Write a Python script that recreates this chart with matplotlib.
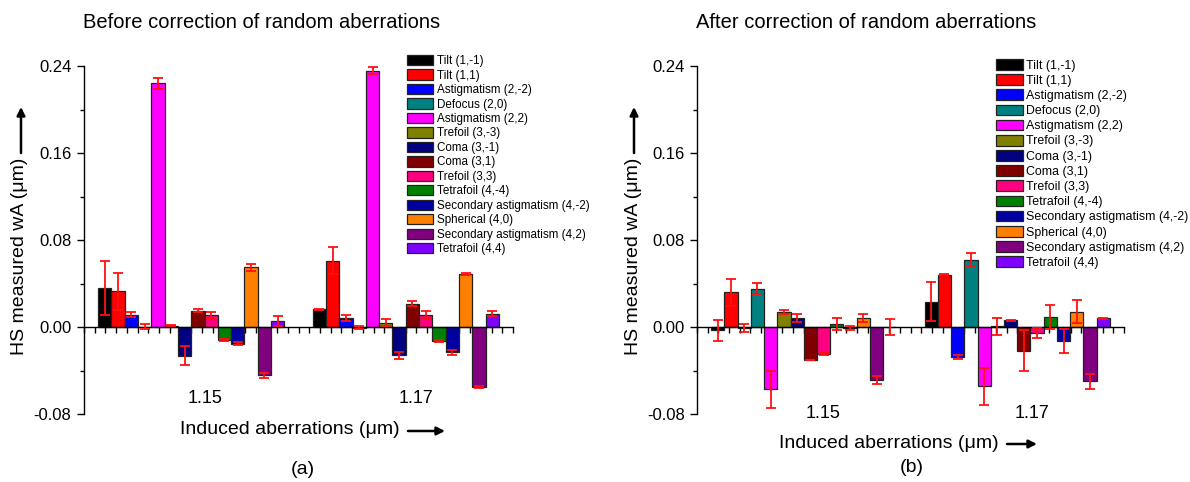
import matplotlib
matplotlib.use("Agg")
import matplotlib.pyplot as plt
from matplotlib.patches import Patch, FancyArrowPatch
import numpy as np

plt.rcParams["font.family"] = ["Liberation Sans", "DejaVu Sans"]

# Zernike terms, one bar per term in each group
terms = ["Tilt (1,-1)", "Tilt (1,1)", "Astigmatism (2,-2)", "Defocus (2,0)",
         "Astigmatism (2,2)", "Trefoil (3,-3)", "Coma (3,-1)", "Coma (3,1)",
         "Trefoil (3,3)", "Tetrafoil (4,-4)", "Secondary astigmatism (4,-2)",
         "Spherical (4,0)", "Secondary astigmatism (4,2)", "Tetrafoil (4,4)"]
term_colors = ["#000000", "#FF0000", "#0000FF", "#008080", "#FF00FF", "#808000",
               "#000080", "#800000", "#FF0080", "#008000", "#0000A0", "#FF8000",
               "#800080", "#8000FF"]
groups = ["1.15", "1.17"]

# Measured coefficients (um) and their standard deviations
before_115 = [0.0355, 0.0330, 0.0113, 0.0003, 0.2243, 0.0010, -0.0264, 0.0150,
              0.0107, -0.0120, -0.0153, 0.0548, -0.0445, 0.0055]
before_115_err = [0.0248, 0.0170, 0.0023, 0.0020, 0.0050, 0.0005, 0.0088, 0.0012,
                  0.0028, 0.0007, 0.0017, 0.0030, 0.0025, 0.0046]
before_117 = [0.0162, 0.0610, 0.0086, -0.0005, 0.2357, 0.0040, -0.0260, 0.0214,
              0.0110, -0.0129, -0.0230, 0.0487, -0.0552, 0.0122]
before_117_err = [0.0006, 0.0124, 0.0028, 0.0015, 0.0030, 0.0035, 0.0034, 0.0021,
                  0.0040, 0.0006, 0.0023, 0.0012, 0.0005, 0.0021]

after_115 = [-0.0030, 0.0318, -0.0010, 0.0352, -0.0572, 0.0138, 0.0083, -0.0303,
             -0.0248, 0.0031, -0.0012, 0.0083, -0.0490, -0.0003]
after_115_err = [0.0096, 0.0126, 0.0038, 0.0049, 0.0170, 0.0017, 0.0037, 0.0003,
                 0.0005, 0.0054, 0.0017, 0.0034, 0.0035, 0.0072]
after_117 = [0.0233, 0.0480, -0.0278, 0.0618, -0.0545, 0.0006, 0.0061, -0.0218,
             -0.0055, 0.0092, -0.0126, 0.0141, -0.0497, 0.0080]
after_117_err = [0.0180, 0.0006, 0.0017, 0.0060, 0.0170, 0.0078, 0.0006, 0.0190,
                 0.0046, 0.0107, 0.0110, 0.0106, 0.0069, 0.0006]

W, H = 1190, 482
fig = plt.figure(figsize=(W / 100, H / 100), dpi=100)


def px(x, y):
    """Figure fraction from pixel position measured from the top-left."""
    return x / W, 1 - y / H


def panel(rect, vals_a, err_a, vals_b, err_b, group_label_pos, group_label_y):
    ax = fig.add_axes(rect)
    width = 0.062
    centers = np.arange(1, len(groups) + 1)
    n = len(terms)
    for i in range(n):
        xs = centers + (i - (n - 1) / 2) * width
        ax.bar(xs, [vals_a[i], vals_b[i]], width=width, color=term_colors[i],
               edgecolor="#222222", linewidth=0.9, zorder=2)
        ax.errorbar(xs, [vals_a[i], vals_b[i]], yerr=[err_a[i], err_b[i]],
                    fmt="none", ecolor="#FF1010", elinewidth=1.3, capsize=3.5,
                    capthick=1.3, zorder=3)
    ax.set_xlim(0.5, 2.5)
    ax.set_ylim(-0.08, 0.24)
    ax.spines["top"].set_visible(False)
    ax.spines["right"].set_visible(False)
    ax.spines["bottom"].set_position(("data", 0))
    ax.spines["left"].set_linewidth(1.0)
    ax.spines["bottom"].set_linewidth(1.0)
    ax.set_yticks([-0.08, 0.0, 0.08, 0.16, 0.24])
    ax.set_yticks([-0.04, 0.04, 0.12, 0.20], minor=True)
    ax.set_yticklabels(["-0.08", "0.00", "0.08", "0.16", "0.24"])
    ax.set_xticks(np.arange(0.5, 2.501, 0.05))
    ax.set_xticklabels([])
    ax.tick_params(axis="y", which="major", direction="out", length=5, width=1,
                   labelsize=12, pad=4)
    ax.tick_params(axis="y", which="minor", direction="out", length=3, width=1)
    ax.tick_params(axis="x", which="major", direction="out", length=4, width=1)
    for xpos, lab in zip(group_label_pos, groups):
        ax.text(xpos, group_label_y, lab, ha="center", va="center", fontsize=13)
    return ax


ax1 = panel([84 / W, 68 / H, 429 / W, 348 / H],
            before_115, before_115_err, before_117, before_117_err,
            [1.064, 2.05], -0.066)
ax2 = panel([697 / W, 68 / H, 427 / W, 348 / H],
            after_115, after_115_err, after_117, after_117_err,
            [1.089, 2.07], -0.080)

handles = [Patch(facecolor=c, edgecolor="#222222", linewidth=0.9) for c in term_colors]
fig.legend(handles, terms, loc="upper left", bbox_to_anchor=px(407, 55),
           frameon=False, fontsize=8.4, handlelength=2.25, handleheight=0.95,
           handletextpad=0.35, labelspacing=0.21, borderpad=0, borderaxespad=0)
fig.legend(handles, terms, loc="upper left", bbox_to_anchor=px(996, 59),
           frameon=False, fontsize=8.9, handlelength=2.15, handleheight=0.95,
           handletextpad=0.3, labelspacing=0.21, borderpad=0, borderaxespad=0)

# Titles, axis labels with direction arrows, panel tags
fig.text(*px(262, 23), "Before correction of random aberrations", ha="center",
         va="center", fontsize=14.5)
fig.text(*px(866, 23), "After correction of random aberrations", ha="center",
         va="center", fontsize=14.5)

arrow = dict(arrowstyle="-|>", color="black", lw=1.8, mutation_scale=12,
             shrinkA=0, shrinkB=0)

for x0, y0, ax_end in [(400, 430, 445), (999, 443, 1037)]:
    fig.text(*px(x0, y0), "Induced aberrations (\u03bcm)", ha="right",
             va="center", fontsize=14)
    fig.add_artist(FancyArrowPatch(px(x0 + 8, y0 + 1), px(ax_end, y0 + 1),
                                   transform=fig.transFigure, **arrow))

for xl in (20, 633):
    fig.text(*px(xl, 158), "HS measured wA (\u03bcm)", rotation=90, ha="center",
             va="top", fontsize=14)
    fig.add_artist(FancyArrowPatch(px(xl + 1, 153), px(xl + 1, 107),
                                   transform=fig.transFigure, **arrow))

fig.text(*px(303, 469), "(a)", ha="center", va="center", fontsize=14)
fig.text(*px(912, 467), "(b)", ha="center", va="center", fontsize=14)

fig.savefig("out.png", dpi=100)
